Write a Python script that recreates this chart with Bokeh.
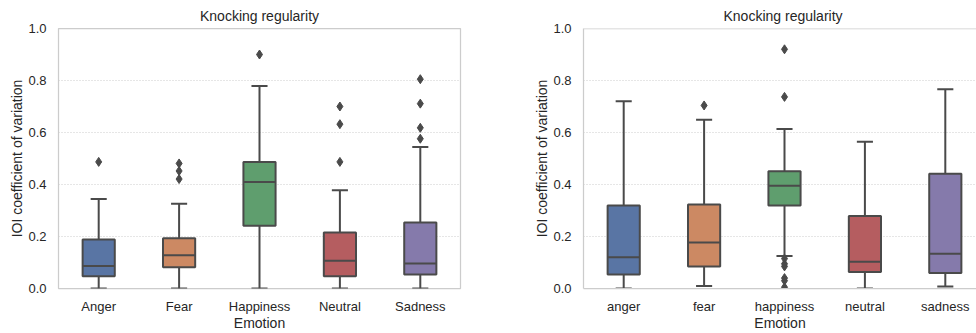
from bokeh.plotting import figure
from bokeh.layouts import row
from bokeh.models import Range1d, FixedTicker, PrintfTickFormatter, Span
from bokeh.embed import file_html
from bokeh.resources import INLINE

# ---------------- data ----------------
categories_left = ["Anger", "Fear", "Happiness", "Neutral", "Sadness"]
categories_right = ["anger", "fear", "happiness", "neutral", "sadness"]
box_colors = ["#5975a4", "#cc8963", "#5f9e6e", "#b55d60", "#857aab"]
y_ticks = [0.0, 0.2, 0.4, 0.6, 0.8, 1.0]

left_lower = [0.0, 0.0, 0.0, 0.0, 0.0]
left_q1 = [0.047, 0.082, 0.241, 0.047, 0.054]
left_median = [0.087, 0.128, 0.410, 0.107, 0.096]
left_q3 = [0.188, 0.193, 0.487, 0.215, 0.254]
left_upper = [0.344, 0.326, 0.779, 0.378, 0.544]
left_fliers = [[0.487], [0.481, 0.452, 0.421], [0.900],
               [0.700, 0.632, 0.487], [0.805, 0.711, 0.618, 0.576]]

right_lower = [0.0, 0.010, 0.125, 0.0, 0.008]
right_q1 = [0.054, 0.085, 0.319, 0.063, 0.060]
right_median = [0.120, 0.177, 0.395, 0.103, 0.134]
right_q3 = [0.319, 0.323, 0.451, 0.279, 0.441]
right_upper = [0.720, 0.649, 0.613, 0.564, 0.766]
right_fliers = [[], [0.704], [0.920, 0.737, 0.115, 0.095, 0.085, 0.040, 0.030, 0.005],
                [], []]

GRAY = "#4a4a4a"
TEXT = "#262626"
EDGE = "#cccccc"
FONT = "Liberation Sans"
BOX_W = 0.4
CAP_W = 0.2


def make_fig(cats, lower, q1, med, q3, upper, fliers, width, mb_right, x_end,
             full_outline):
    p = figure(width=width, height=333, output_backend="svg", toolbar_location=None,
               x_range=Range1d(-0.5, x_end), y_range=Range1d(0, 1),
               min_border_left=58, min_border_right=mb_right,
               min_border_top=28, min_border_bottom=44,
               background_fill_color="white", border_fill_color="white")
    xs = list(range(len(cats)))

    # whiskers
    p.segment(x0=xs, y0=q3, x1=xs, y1=upper, line_color=GRAY, line_width=2)
    p.segment(x0=xs, y0=lower, x1=xs, y1=q1, line_color=GRAY, line_width=2)
    # caps
    p.segment(x0=[x - CAP_W / 2 for x in xs], y0=upper,
              x1=[x + CAP_W / 2 for x in xs], y1=upper, line_color=GRAY, line_width=2)
    p.segment(x0=[x - CAP_W / 2 for x in xs], y0=lower,
              x1=[x + CAP_W / 2 for x in xs], y1=lower, line_color=GRAY, line_width=2)
    # boxes
    p.vbar(x=xs, width=BOX_W, bottom=q1, top=q3, fill_color=box_colors,
           line_color=GRAY, line_width=2)
    # medians
    p.segment(x0=[x - BOX_W / 2 for x in xs], y0=med,
              x1=[x + BOX_W / 2 for x in xs], y1=med, line_color=GRAY, line_width=2)
    # fliers
    fx, fy = [], []
    for x, fl in zip(xs, fliers):
        for v in fl:
            fx.append(x)
            fy.append(v)
    if fx:
        p.scatter(x=fx, y=fy, marker="diamond", size=9, fill_color=GRAY,
                  line_color=GRAY)

    # title
    p.title.text = "Knocking regularity"
    if full_outline:
        p.title.align = "center"
    else:
        p.title.align = "left"
        p.title.offset = 140
    p.title.text_font = FONT
    p.title.text_font_size = "14px"
    p.title.text_font_style = "normal"
    p.title.text_color = TEXT

    # grid
    p.xgrid.grid_line_color = None
    p.ygrid.ticker = FixedTicker(ticks=y_ticks)
    p.ygrid.grid_line_color = EDGE
    p.ygrid.grid_line_dash = "1 2"
    p.ygrid.grid_line_width = 1

    # axes
    for ax in (p.xaxis[0], p.yaxis[0]):
        ax.major_tick_line_color = None
        ax.minor_tick_line_color = None
        ax.major_tick_out = 0
        ax.major_tick_in = 0
        ax.minor_tick_out = 0
        ax.minor_tick_in = 0
        ax.major_label_text_font = FONT
        ax.major_label_text_font_size = "13px"
        ax.major_label_text_color = TEXT
        ax.axis_label_text_font = FONT
        ax.axis_label_text_font_size = "14px"
        ax.axis_label_text_font_style = "normal"
        ax.axis_label_text_color = TEXT

    p.xaxis.ticker = FixedTicker(ticks=xs)
    p.xaxis.major_label_overrides = {i: c for i, c in enumerate(cats)}
    p.xaxis.axis_label = "Emotion"
    p.xaxis.major_label_standoff = 10
    p.xaxis.axis_label_standoff = -2

    p.yaxis.ticker = FixedTicker(ticks=y_ticks)
    p.yaxis.formatter = PrintfTickFormatter(format="%.1f")
    p.yaxis.axis_label = "IOI coefficient of variation"
    p.yaxis.major_label_standoff = 12
    p.yaxis.axis_label_standoff = 0

    if full_outline:
        p.outline_line_color = EDGE
        p.outline_line_width = 1.25
        p.xaxis.axis_line_color = None
        p.yaxis.axis_line_color = None
    else:
        p.outline_line_color = None
        p.xaxis.axis_line_color = EDGE
        p.xaxis.axis_line_width = 1.25
        p.yaxis.axis_line_color = EDGE
        p.yaxis.axis_line_width = 1.25
        p.add_layout(Span(location=1.0, dimension="width", line_color=EDGE,
                          line_width=1.25))
    return p


p1 = make_fig(categories_left, left_lower, left_q1, left_median, left_q3, left_upper,
              left_fliers, 525, 65, 4.5, True)
p2 = make_fig(categories_right, right_lower, right_q1, right_median, right_q3,
              right_upper, right_fliers, 451, 0, 4.388, False)

layout = row(p1, p2, spacing=0)
open("out.html", "w").write(file_html(layout, INLINE))
